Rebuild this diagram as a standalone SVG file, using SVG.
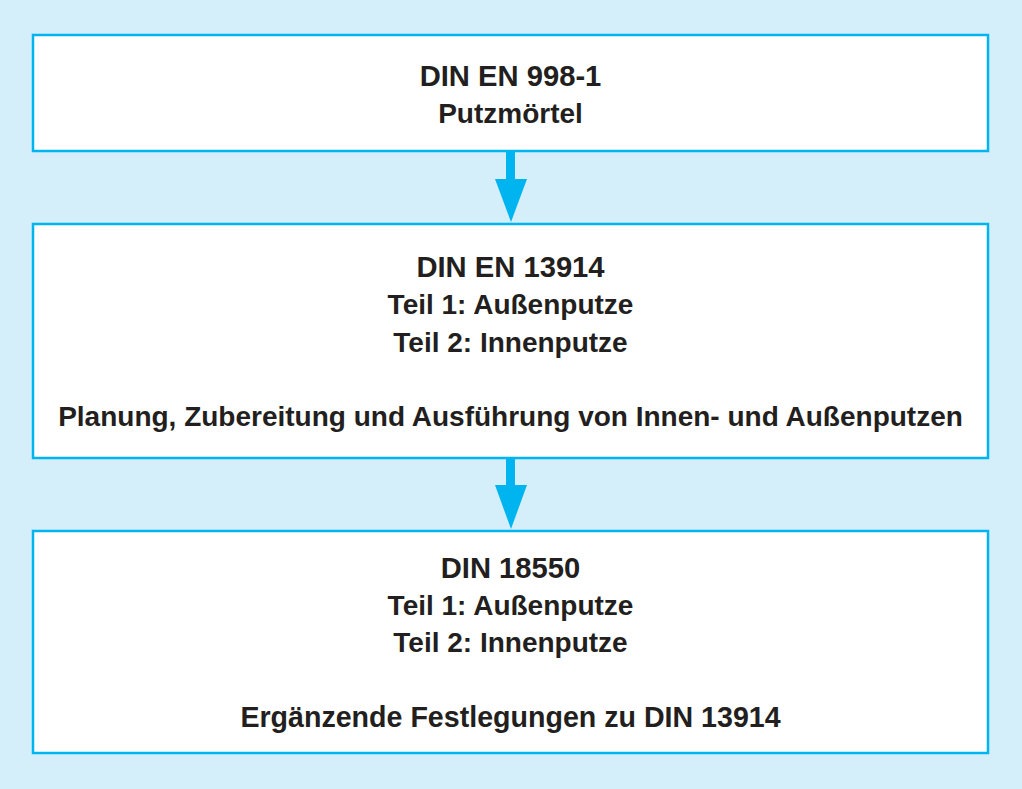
<svg xmlns="http://www.w3.org/2000/svg" width="1022" height="789" viewBox="0 0 1022 789">
<style>
.box{fill:#ffffff;stroke:#00b5ef;stroke-width:2.5}
.arrow{fill:#00b5ef}
text{font-family:"Liberation Sans",Arial,sans-serif;font-weight:bold;font-size:28px;fill:#231f20;text-anchor:middle}
.t{font-size:29.2px}
</style>
<rect x="0" y="0" width="1022" height="789" fill="#d4eefa"/>
<g id="connectors">
<path class="arrow" d="M506,151 H515 V179 H527 L511,222 L495,179 H506 Z"/>
<path class="arrow" d="M506,458 H515 V485 H527 L511,529 L495,485 H506 Z"/>
</g>
<g id="node1">
<rect class="box" x="33" y="35" width="955" height="116"/>
<text class="t" x="510.5" y="86">DIN EN 998-1</text>
<text x="510.5" y="123">Putzmörtel</text>
</g>
<g id="node2">
<rect class="box" x="33" y="224" width="955" height="234"/>
<text class="t" x="510.5" y="277">DIN EN 13914</text>
<text x="510.5" y="314">Teil 1: Außenputze</text>
<text x="510.5" y="352">Teil 2: Innenputze</text>
<text x="510.5" y="426">Planung, Zubereitung und Ausführung von Innen- und Außenputzen</text>
</g>
<g id="node3">
<rect class="box" x="33" y="531" width="955" height="222"/>
<text class="t" x="510.5" y="578">DIN 18550</text>
<text x="510.5" y="615">Teil 1: Außenputze</text>
<text x="510.5" y="652">Teil 2: Innenputze</text>
<text x="510.5" y="727" style="font-size:28.6px">Ergänzende Festlegungen zu DIN 13914</text>
</g>
</svg>
